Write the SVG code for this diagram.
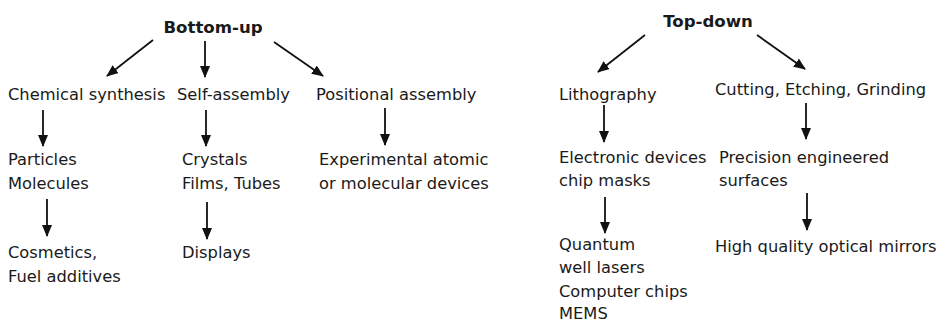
<svg xmlns="http://www.w3.org/2000/svg" width="941" height="322" viewBox="0 0 941 322">
<defs>
<marker id="ah" viewBox="0 0 12 10" refX="11" refY="5" markerWidth="12" markerHeight="10" markerUnits="userSpaceOnUse" orient="auto">
<path d="M0,0 L12,5 L0,10 z" fill="#111"/>
</marker>
</defs>
<style>
text{font-family:"DejaVu Sans",Verdana,sans-serif;font-size:16.3px;fill:#1a1a1a}
.b{font-weight:bold;font-size:16.6px}
.c line{stroke:#111;stroke-width:1.8;marker-end:url(#ah)}
</style>
<rect width="941" height="322" fill="#fff"/>
<g id="bottom-up"><text class="b" x="213" y="33" text-anchor="middle">Bottom-up</text></g>
<g id="chem"><text x="8" y="100">Chemical synthesis</text></g>
<g id="self"><text x="177" y="100">Self-assembly</text></g>
<g id="pos"><text x="316" y="100">Positional assembly</text></g>
<g id="particles"><text x="8" y="165">Particles</text><text x="8" y="189">Molecules</text></g>
<g id="crystals"><text x="182" y="165">Crystals</text><text x="182" y="189">Films, Tubes</text></g>
<g id="exp"><text x="319" y="165">Experimental atomic</text><text x="319" y="189">or molecular devices</text></g>
<g id="cosm"><text x="8" y="258">Cosmetics,</text><text x="8" y="282">Fuel additives</text></g>
<g id="disp"><text x="182" y="258">Displays</text></g>
<g id="top-down"><text class="b" x="708" y="27" text-anchor="middle">Top-down</text></g>
<g id="litho"><text x="559" y="100">Lithography</text></g>
<g id="cut"><text x="715" y="95">Cutting, Etching, Grinding</text></g>
<g id="elec"><text x="559" y="163">Electronic devices</text><text x="559" y="186">chip masks</text></g>
<g id="prec"><text x="719" y="163">Precision engineered</text><text x="719" y="186">surfaces</text></g>
<g id="quant"><text x="559" y="250">Quantum</text><text x="559" y="273">well lasers</text><text x="559" y="297">Computer chips</text><text x="559" y="319">MEMS</text></g>
<g id="mirror"><text x="715" y="252">High quality optical mirrors</text></g>
<g class="c" id="connectors">
<line x1="153" y1="40" x2="107" y2="76"/>
<line x1="205" y1="41" x2="205" y2="77"/>
<line x1="274" y1="42" x2="323" y2="76"/>
<line x1="43" y1="110" x2="43" y2="146"/>
<line x1="206" y1="110" x2="206" y2="146"/>
<line x1="385" y1="108" x2="385" y2="145"/>
<line x1="47" y1="199" x2="47" y2="236"/>
<line x1="207" y1="202" x2="207" y2="239"/>
<line x1="645" y1="35" x2="598" y2="72"/>
<line x1="757" y1="35" x2="805" y2="69"/>
<line x1="604" y1="105" x2="604" y2="142"/>
<line x1="806" y1="103" x2="806" y2="139"/>
<line x1="605" y1="197" x2="605" y2="233"/>
<line x1="807" y1="193" x2="807" y2="230"/>
</g>
</svg>
